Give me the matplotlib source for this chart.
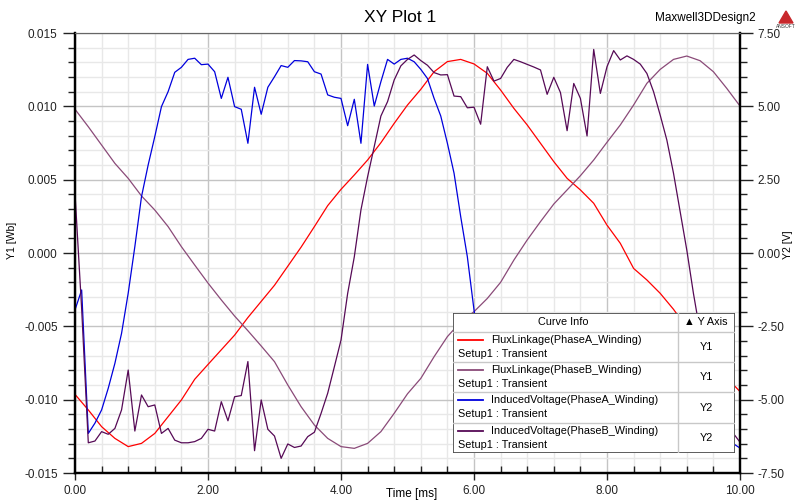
import numpy as np
import matplotlib
matplotlib.use("Agg")
import matplotlib.pyplot as plt
from matplotlib.ticker import MultipleLocator, FormatStrFormatter
from matplotlib.patches import Rectangle, Polygon

plt.rcParams['font.family'] = ['Liberation Sans', 'DejaVu Sans']

# time axes (ms)
t_flux = np.linspace(0, 10, 51)
t_volt = np.linspace(0, 10, 101)

# FluxLinkage (Y1, Wb)
flux_a = [-0.00964, -0.0107, -0.01184, -0.01264, -0.0132, -0.01298, -0.0123, -0.01116,
          -0.01002, -0.00861, -0.0076, -0.0066, -0.0056, -0.0044, -0.0033, -0.0022,
          -0.0009, 0.0004, 0.0018, 0.00323, 0.00434, 0.00532, 0.00634, 0.00752, 0.00884,
          0.01009, 0.01116, 0.01236, 0.01305, 0.0132, 0.01289, 0.01225, 0.01111, 0.00986,
          0.00873, 0.00748, 0.00623, 0.00509, 0.0043, 0.00339, 0.0019, 0.00066, -0.00105,
          -0.00184, -0.00275, -0.00384, -0.0051, -0.0064, -0.0075, -0.0085, -0.00945]
flux_b = [0.0098, 0.00861, 0.00736, 0.00611, 0.00509, 0.00389, 0.00293, 0.0018, 0.00043,
          -0.00082, -0.00205, -0.0032, -0.0043, -0.0053, -0.00634, -0.00741, -0.009,
          -0.01048, -0.01173, -0.01264, -0.0132, -0.01332, -0.01298, -0.01218, -0.01093,
          -0.0096, -0.00855, -0.00707, -0.0057, -0.0047, -0.004, -0.0031, -0.002, -0.00048,
          0.00089, 0.00214, 0.00334, 0.0043, 0.00527, 0.00634, 0.00755, 0.00873, 0.01009,
          0.01157, 0.01252, 0.0132, 0.01343, 0.01311, 0.01236, 0.01123, 0.01002]

# InducedVoltage (Y2, V)
volt_a = [-1.94, -1.26, -6.15, -5.8, -5.35, -4.61, -3.76, -2.74, -1.37, 0.22, 1.92, 3.0,
          3.97, 4.99, 5.5, 6.16, 6.33, 6.6, 6.64, 6.42, 6.44, 6.18, 5.27, 5.99, 4.99, 4.9,
          3.74, 5.65, 4.73, 5.65, 6.01, 6.39, 6.33, 6.56, 6.55, 6.52, 6.18, 6.1, 5.39, 5.31,
          5.27, 4.34, 5.24, 3.74, 6.43, 5.01, 5.84, 6.6, 6.44, 6.6, 6.64,
          6.52, 6.26, 5.95, 5.27, 4.67, 3.74, 2.72, 1.24, -0.13, -1.94,
          -3.4, -4.6, -5.5, -6.0, -6.3, -6.5, -6.6, -6.4, -6.4, -6.2, -5.3, -6.0, -4.9,
          -4.9, -5.6, -3.8, -5.6, -4.8, -5.7, -6.0, -6.4, -6.3, -6.6, -6.5, -6.5, -6.2,
          -6.1, -5.4, -5.3, -5.3, -4.3, -5.2, -3.8, -6.4, -5.0, -5.8, -6.6, -6.4, -6.5, -6.65]
volt_b = [2.03, -1.9, -6.47, -6.41, -6.09, -6.18, -5.98, -5.35, -3.99, -6.07, -4.84, -5.24,
          -5.18, -6.15, -5.98, -6.38, -6.47, -6.47, -6.43, -6.32, -6.01, -6.07, -5.07, -5.72,
          -4.9, -4.86,
          -3.70, -6.74, -5.01, -6.01, -6.24, -7.0, -6.51, -6.63, -6.58, -6.26, -6.11, -5.47,
          -4.78, -3.88, -2.97, -1.38, -0.13, 1.47, 2.6, 3.63, 4.67, 5.16, 5.9, 6.38, 6.6,
          6.75, 6.56, 6.4, 6.15, 6.07, 6.08, 5.35, 5.33, 4.95, 4.97, 4.39, 6.35, 5.86, 5.95,
          6.33, 6.6, 6.52, 6.43, 6.34, 6.24, 5.41, 5.99, 5.47, 4.17, 5.78, 5.27,
          3.99, 6.94, 5.44, 6.35, 6.9, 6.58, 6.72, 6.6, 6.44, 6.12, 5.5, 4.7, 3.85, 2.72,
          1.41, 0.1, -1.38, -2.7, -4.0, -5.1, -5.8, -6.2, -6.15, -6.45]

names = ['FluxLinkage(PhaseA_Winding)', 'FluxLinkage(PhaseB_Winding)',
         'InducedVoltage(PhaseA_Winding)', 'InducedVoltage(PhaseB_Winding)']
axis_names = ['Y1', 'Y1', 'Y2', 'Y2']
colors = ['#ff0000', '#8a4a78', '#0000dd', '#560a56']

W, H = 796, 503
fig = plt.figure(figsize=(W / 100, H / 100), dpi=100)
ax = fig.add_axes([75 / W, 1 - 473 / H, 665 / W, 440 / H])
ax2 = ax.twinx()

ax.plot(t_flux, flux_a, color=colors[0], lw=0.9)
ax.plot(t_flux, flux_b, color=colors[1], lw=0.9)
ax2.plot(t_volt, volt_a, color=colors[2], lw=0.9)
ax2.plot(t_volt, volt_b, color=colors[3], lw=0.9)

ax.set_xlim(0, 10)
ax.set_ylim(-0.015, 0.015)
ax2.set_ylim(-7.5, 7.5)

ax.xaxis.set_major_locator(MultipleLocator(2))
ax.xaxis.set_minor_locator(MultipleLocator(0.4))
ax.yaxis.set_major_locator(MultipleLocator(0.005))
ax.yaxis.set_minor_locator(MultipleLocator(0.001))
ax2.yaxis.set_major_locator(MultipleLocator(2.5))
ax2.yaxis.set_minor_locator(MultipleLocator(0.5))
ax.xaxis.set_major_formatter(FormatStrFormatter('%.2f'))
ax.yaxis.set_major_formatter(FormatStrFormatter('%.3f'))
ax2.yaxis.set_major_formatter(FormatStrFormatter('%.2f'))

ax.grid(which='major', color='#c4c4c4', lw=1.0)
ax.grid(which='minor', color='#e8e8e8', lw=1.0)
ax.set_axisbelow(True)

ax.tick_params(axis='y', which='major', direction='out', length=9, width=1, labelsize=8.5, colors='#222222')
ax.tick_params(axis='y', which='minor', direction='out', length=5, width=1, colors='#222222')
ax.tick_params(axis='x', which='major', direction='out', length=5, width=1, labelsize=8.5, pad=4, colors='#222222')
ax.tick_params(axis='x', which='minor', direction='in', length=5, width=1, colors='#222222')
ax2.tick_params(axis='y', which='major', direction='out', length=9, width=1, labelsize=8.5, colors='#222222')
ax2.tick_params(axis='y', which='minor', direction='out', length=5, width=1, colors='#222222')

for a in (ax, ax2):
    a.spines['top'].set_color('#666666')
    a.spines['left'].set_linewidth(1.6)
    a.spines['bottom'].set_linewidth(1.6)
    a.spines['right'].set_linewidth(1.6)

# axis titles placed by hand near the figure edges
fig.text(12 / W, 1 - 240 / H, 'Y1 [Wb]', fontsize=7.5, rotation=90, ha='center', va='center')
fig.text(788 / W, 1 - 245 / H, 'Y2 [V]', fontsize=7.5, rotation=90, ha='center', va='center')
fig.text(412 / W, 1 - 494 / H, 'Time [ms]', fontsize=8.5, ha='center', va='center')

fig.text(400 / W, 1 - 18 / H, 'XY Plot 1', fontsize=12.5, ha='center', va='center')
fig.text(705 / W, 1 - 18 / H, 'Maxwell3DDesign2', fontsize=8.5, ha='center', va='center')
# ANSOFT logo
logo = fig.add_axes([776 / W, 1 - 28 / H, 20 / W, 20 / H])
logo.set_xlim(0, 20)
logo.set_ylim(20, 0)
logo.axis('off')
logo.add_patch(Polygon([[3, 15], [10, 3], [17, 15]], closed=True, color='#c8282c'))
logo.text(10, 18, 'ANSOFT', fontsize=3.5, ha='center', va='center', color='#333333')

# legend table
lx0, lx1, ly0, ly1 = 453, 735, 313, 453
leg = fig.add_axes([lx0 / W, 1 - ly1 / H, (lx1 - lx0) / W, (ly1 - ly0) / H])
leg.set_zorder(10)
lw_, lh_ = lx1 - lx0, ly1 - ly0
leg.set_xlim(0, lw_)
leg.set_ylim(lh_, 0)
leg.axis('off')
leg.add_patch(Rectangle((0, 0), lw_, lh_, facecolor='white', edgecolor='#505050', lw=1.3))
col = 224.7
rows = [18.7, 49.3, 79.3, 110.3, lh_]
leg.plot([col, col], [0, lh_], color='#c8c8c8', lw=1)
for r in rows[:-1]:
    leg.plot([0, lw_], [r, r], color='#c8c8c8', lw=1)
leg.text(110, 9.3, 'Curve Info', fontsize=7.8, ha='center', va='center')
leg.text(253, 9.3, '▲ Y Axis', fontsize=7.8, ha='center', va='center')
for i in range(4):
    top = rows[i]
    leg.plot([5, 30], [top + 8, top + 8], color=colors[i], lw=1.3)
    leg.text(38, top + 8, names[i], fontsize=7.8, ha='left', va='center')
    leg.text(5, top + 22, 'Setup1 : Transient', fontsize=7.8, ha='left', va='center')
    leg.text(253, (top + rows[i + 1]) / 2, axis_names[i], fontsize=7.8, ha='center', va='center')

fig.savefig('out.png', dpi=100)
